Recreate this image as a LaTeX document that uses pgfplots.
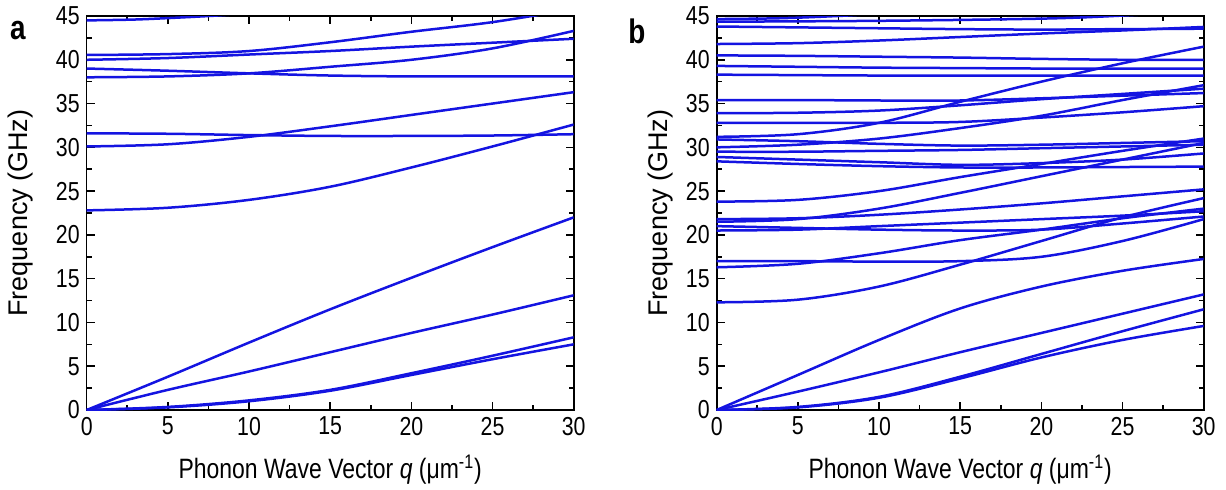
\documentclass[border=0pt]{standalone}
\usepackage{fontspec}
\setmainfont{Liberation Sans}[FakeStretch=0.82]
\newfontfamily\ylfont{Liberation Sans}
\usepackage{pgfplots}
\pgfplotsset{compat=1.18}
\definecolor{band}{RGB}{20,20,225}
\tikzset{ln/.style={color=band, line width=1.25pt, smooth, tension=0.55, mark=none}}
\pgfplotsset{
  disp/.style={
    scale only axis, width=243.5pt, height=197pt,
    xmin=0, xmax=30, ymin=0, ymax=45,
    xtick={0,5,...,30}, ytick={0,5,...,45},
    minor x tick num=1, minor y tick num=1,
    tick align=inside, major tick length=4pt, minor tick length=2.5pt,
    axis line style={line width=0.8pt},
    every tick/.style={black, line width=0.8pt},
    tick label style={font=\fontsize{13}{13}\selectfont},
    /pgf/number format/assume math mode=true,
    xlabel={Phonon Wave Vector \textit{q} (μm\textsuperscript{-1})},
    ylabel={Frequency (GHz)},
    xlabel style={font=\fontsize{14}{16}\selectfont, at={(axis description cs:0.5,-0.152)}, anchor=center},
  }
}
\begin{document}
\begin{tikzpicture}
\useasboundingbox (0,0) rectangle (613pt,244.5pt);
% panel a
\begin{axis}[disp, at={(43.35pt,39.5pt)}, anchor=south west,
  ylabel style={font=\ylfont\fontsize{13.5}{16}\selectfont, at={(axis description cs:-0.135,0.5)}, anchor=center}]
\addplot[ln] coordinates {(0,44.5) (3,44.6) (6,44.85) (8,45.05) (10,45.3)};
\addplot[ln] coordinates {(0,40.55) (5,40.65) (10,41.0) (15,42.0) (20,43.2) (25,44.3) (30,45.8)};
\addplot[ln] coordinates {(0,40.0) (5,40.2) (10,40.6) (15,41.0) (20,41.5) (25,41.95) (30,42.4)};
\addplot[ln] coordinates {(0,39.0) (5,38.75) (10,38.45) (15,38.2) (20,38.1) (25,38.1) (30,38.1)};
\addplot[ln] coordinates {(0,38.0) (5,38.1) (10,38.45) (15,39.2) (20,40.0) (25,41.3) (30,43.3)};
\addplot[ln] coordinates {(0,31.6) (5,31.55) (10,31.4) (15,31.3) (20,31.3) (25,31.35) (30,31.5)};
\addplot[ln] coordinates {(0,30.1) (5,30.35) (10,31.2) (15,32.4) (20,33.7) (25,35.0) (30,36.3)};
\addplot[ln] coordinates {(0,22.8) (5,23.1) (10,24.0) (15,25.5) (20,27.7) (25,30.1) (30,32.6)};
\addplot[ln] coordinates {(0,0) (5,3.8) (10,7.7) (15,11.5) (20,15.1) (25,18.6) (30,22.0)};
\addplot[ln] coordinates {(0,0) (5,2.3) (10,4.4) (15,6.6) (20,8.8) (25,10.9) (30,13.1)};
\addplot[ln] coordinates {(0,0) (5,0.35) (10,1.1) (15,2.3) (20,4.2) (25,6.2) (30,8.3)};
\addplot[ln] coordinates {(0,0) (5,0.3) (10,1.0) (15,2.2) (20,4.0) (25,5.8) (30,7.5)};
\end{axis}
% panel b
\begin{axis}[disp, at={(358.35pt,39.5pt)}, anchor=south west,
  ylabel style={font=\ylfont\fontsize{13.5}{16}\selectfont, at={(axis description cs:-0.116,0.5)}, anchor=center}]
\addplot[ln] coordinates {(0,44.65) (4,44.75) (8,45.05) (10,45.3)};
\addplot[ln] coordinates {(0,44.35) (10,44.45) (20,44.7) (25,45.05) (30,45.6)};
\addplot[ln] coordinates {(0,43.8) (5,43.7) (10,43.6) (15,43.5) (20,43.45) (25,43.5) (30,43.55)};
\addplot[ln] coordinates {(0,41.8) (5,41.9) (10,42.2) (15,42.6) (20,43.0) (25,43.35) (30,43.75)};
\addplot[ln] coordinates {(0,40.5) (5,40.45) (10,40.35) (15,40.25) (20,40.1) (25,40.0) (30,40.0)};
\addplot[ln] coordinates {(0,39.3) (5,39.2) (10,39.1) (15,39.05) (20,39.0) (25,39.0) (30,39.0)};
\addplot[ln] coordinates {(0,38.3) (5,38.25) (10,38.2) (15,38.2) (20,38.2) (25,38.2) (30,38.2)};
\addplot[ln] coordinates {(0,31.2) (5,31.5) (10,32.8) (15,35.2) (20,37.5) (25,39.6) (30,41.5)};
\addplot[ln] coordinates {(0,35.4) (5,35.4) (10,35.35) (15,35.35) (20,35.6) (25,35.9) (30,36.2)};
\addplot[ln] coordinates {(0,33.9) (5,33.95) (10,34.2) (15,34.8) (20,35.5) (25,36.1) (30,36.7)};
\addplot[ln] coordinates {(0,30.0) (5,30.3) (10,31.0) (15,32.2) (20,33.6) (25,35.4) (30,37.1)};
\addplot[ln] coordinates {(0,32.8) (5,32.8) (10,32.8) (15,32.9) (20,33.4) (25,34.0) (30,34.7)};
\addplot[ln] coordinates {(0,30.9) (5,30.7) (10,30.4) (15,30.2) (20,30.3) (25,30.5) (30,30.7)};
\addplot[ln] coordinates {(0,29.5) (5,29.5) (10,29.6) (15,29.7) (20,29.9) (25,30.1) (30,30.3)};
\addplot[ln] coordinates {(0,28.9) (5,28.6) (10,28.3) (15,28.0) (20,28.2) (25,28.6) (30,29.3)};
\addplot[ln] coordinates {(0,28.4) (5,28.1) (10,27.85) (15,27.7) (20,27.7) (25,27.75) (30,27.8)};
\addplot[ln] coordinates {(0,23.8) (5,24.0) (10,25.0) (15,26.6) (20,28.1) (25,29.6) (30,31.0)};
\addplot[ln] coordinates {(0,21.8) (5,21.9) (10,22.3) (15,22.9) (20,23.6) (25,24.4) (30,25.2)};
\addplot[ln] coordinates {(0,21.5) (5,21.8) (10,23.0) (15,24.8) (20,26.7) (25,28.6) (30,30.5)};
\addplot[ln] coordinates {(0,21.0) (5,20.8) (10,20.6) (15,20.5) (20,20.6) (25,21.3) (30,22.1)};
\addplot[ln] coordinates {(0,20.5) (5,20.6) (10,21.0) (15,21.4) (20,21.8) (25,22.2) (30,22.7)};
\addplot[ln] coordinates {(0,17.0) (5,17.0) (10,16.95) (15,17.0) (20,17.5) (25,19.3) (30,21.8)};
\addplot[ln] coordinates {(0,16.3) (5,16.7) (10,17.9) (15,19.4) (20,20.6) (25,21.9) (30,23.0)};
\addplot[ln] coordinates {(0,12.3) (5,12.6) (10,14.1) (15,16.6) (20,19.3) (25,22.0) (30,24.2)};
\addplot[ln] coordinates {(0,0) (5,4.0) (10,8.0) (15,11.6) (20,14.1) (25,15.9) (30,17.25)};
\addplot[ln] coordinates {(0,0) (5,2.1) (10,4.3) (15,6.6) (20,8.8) (25,11.0) (30,13.2)};
\addplot[ln] coordinates {(0,0) (5,0.35) (10,1.5) (15,3.8) (20,6.4) (25,9.0) (30,11.5)};
\addplot[ln] coordinates {(0,0) (5,0.3) (10,1.4) (15,3.6) (20,6.0) (25,8.0) (30,9.6)};
\end{axis}
\node[font=\bfseries\fontsize{17}{17}\selectfont] at (9pt,229pt) {a};
\node[font=\bfseries\fontsize{17}{17}\selectfont] at (318.5pt,229pt) {b};
\end{tikzpicture}
\end{document}
